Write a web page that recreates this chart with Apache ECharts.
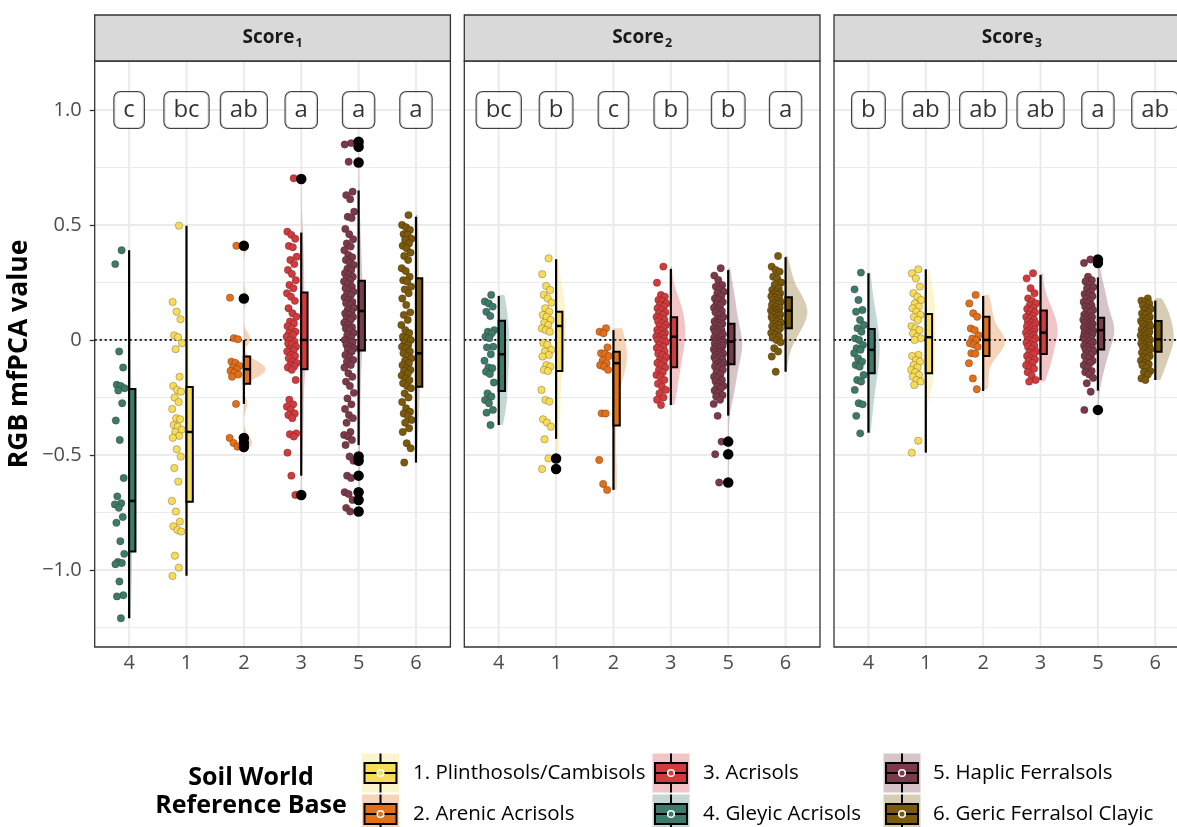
<!DOCTYPE html>
<html><head><meta charset="utf-8">
<script src="https://cdn.jsdelivr.net/npm/echarts@6/dist/echarts.min.js"></script>
<style>html,body{margin:0;padding:0;background:#fff}#c{width:1177px;height:827px}</style>
</head><body><div id="c"></div><script>
// ---------- DATA ----------
const facetSubs = ['1', '2', '3'];
const xGroups = [4, 1, 2, 3, 5, 6];               // soil group shown at axis positions 1..6
const xTickLabels = ['4', '1', '2', '3', '5', '6'];
const groupNames = ['1. Plinthosols/Cambisols', '2. Arenic Acrisols', '3. Acrisols',
  '4. Gleyic Acrisols', '5. Haplic Ferralsols', '6. Geric Ferralsol Clayic'];
const groupColors = ['#F6DC57', '#E2701B', '#D23B3E', '#3C7B69', '#7B3A4A', '#7A5A0B'];
const yTicks = [-1, -0.5, 0, 0.5, 1];
const yMinorTicks = [-1.25, -0.75, -0.25, 0.25, 0.75];

// Score 1 points
const s1_g4 = [0.39,0.33,-0.05,-0.12,-0.195,-0.2,-0.21,-0.22,-0.275,-0.35,-0.435,-0.6,-0.68,-0.71,-0.715,-0.73,-0.77,-0.795,-0.875,-0.93,-0.965,-0.97,-0.975,-1.05,-1.11,-1.115,-1.21];
const s1_g1 = [0.497,0.165,0.123,0.09,0.02,0.012,-0.014,-0.04,-0.16,-0.2,-0.217,-0.225,-0.25,-0.27,-0.3,-0.34,-0.345,-0.37,-0.377,-0.39,-0.4,-0.417,-0.425,-0.475,-0.507,-0.557,-0.616,-0.7,-0.746,-0.79,-0.81,-0.826,-0.833,-0.938,-0.99,-1.026];
const s1_g2 = [0.41,0.184,0.008,0.003,-0.094,-0.1,-0.113,-0.12,-0.127,-0.135,-0.142,-0.15,-0.16,-0.278,-0.426,-0.448,-0.464];
const s1_g3 = [0.703,0.471,0.457,0.44,0.409,0.403,0.362,0.348,0.33,0.304,0.287,0.26,0.239,0.225,0.203,0.188,0.17,0.138,0.116,0.101,0.08,0.072,0.06,0.051,0.036,0.03,0.022,0.014,0.0,-0.007,-0.015,-0.02,-0.029,-0.04,-0.045,-0.05,-0.065,-0.07,-0.08,-0.094,-0.1,-0.109,-0.115,-0.12,-0.13,-0.174,-0.26,-0.28,-0.29,-0.304,-0.32,-0.326,-0.34,-0.406,-0.41,-0.42,-0.49,-0.59,-0.674];
const s1_g5 = [0.856,0.85,0.775,0.645,0.63,0.612,0.558,0.536,0.53,0.483,0.46,0.438,0.42,0.406,0.39,0.37,0.36,0.348,0.335,0.326,0.31,0.304,0.29,0.283,0.275,0.268,0.26,0.254,0.245,0.232,0.225,0.217,0.21,0.2,0.196,0.185,0.174,0.165,0.16,0.152,0.14,0.13,0.12,0.115,0.109,0.1,0.095,0.087,0.075,0.065,0.055,0.05,0.043,0.03,0.022,0.01,0.0,-0.007,-0.01,-0.02,-0.029,-0.036,-0.04,-0.05,-0.065,-0.075,-0.087,-0.095,-0.109,-0.12,-0.145,-0.16,-0.181,-0.2,-0.23,-0.254,-0.28,-0.3,-0.326,-0.34,-0.36,-0.4,-0.413,-0.42,-0.435,-0.457,-0.507,-0.525,-0.59,-0.6,-0.662,-0.67,-0.696,-0.73,-0.746];
const s1_g6 = [0.543,0.5,0.49,0.478,0.46,0.457,0.44,0.435,0.42,0.41,0.399,0.38,0.365,0.348,0.312,0.3,0.275,0.26,0.254,0.232,0.22,0.203,0.18,0.152,0.12,0.109,0.087,0.065,0.043,0.03,0.014,0.007,0.0,-0.014,-0.022,-0.03,-0.036,-0.05,-0.058,-0.07,-0.08,-0.09,-0.101,-0.11,-0.123,-0.13,-0.135,-0.145,-0.155,-0.167,-0.175,-0.188,-0.2,-0.21,-0.232,-0.25,-0.27,-0.297,-0.312,-0.32,-0.33,-0.348,-0.36,-0.384,-0.4,-0.449,-0.471,-0.533];
// Score 2 points
const s2_g4 = [0.196,0.167,0.159,0.145,0.123,0.104,0.043,0.036,0.029,0.014,0.008,-0.029,-0.032,-0.062,-0.09,-0.119,-0.123,-0.138,-0.148,-0.185,-0.232,-0.246,-0.261,-0.275,-0.304,-0.316,-0.37];
const s2_g1 = [0.355,0.286,0.235,0.217,0.196,0.181,0.162,0.138,0.123,0.109,0.1,0.087,0.075,0.065,0.05,0.043,0.036,-0.014,-0.02,-0.043,-0.05,-0.065,-0.072,-0.109,-0.116,-0.13,-0.135,-0.217,-0.261,-0.268,-0.345,-0.359,-0.377,-0.432,-0.515,-0.561];
const s2_g2 = [0.051,0.036,0.029,-0.032,-0.058,-0.06,-0.07,-0.09,-0.101,-0.11,-0.116,-0.13,-0.319,-0.32,-0.522,-0.626,-0.652];
const s2_g3 = [0.319,0.249,0.196,0.188,0.174,0.17,0.159,0.152,0.145,0.138,0.13,0.12,0.116,0.109,0.1,0.094,0.087,0.08,0.072,0.065,0.06,0.051,0.043,0.04,0.03,0.029,0.022,0.015,0.01,0.005,0.0,-0.005,-0.01,-0.022,-0.03,-0.035,-0.043,-0.05,-0.06,-0.065,-0.075,-0.087,-0.095,-0.1,-0.109,-0.12,-0.13,-0.14,-0.152,-0.16,-0.174,-0.19,-0.203,-0.217,-0.232,-0.25,-0.26,-0.283];
const s2_g5 = [0.312,0.28,0.261,0.239,0.232,0.22,0.21,0.203,0.19,0.18,0.174,0.165,0.155,0.152,0.14,0.13,0.125,0.12,0.109,0.1,0.09,0.087,0.08,0.075,0.07,0.065,0.06,0.05,0.045,0.043,0.035,0.03,0.025,0.022,0.015,0.01,0.005,0.0,-0.002,-0.005,-0.007,-0.01,-0.012,-0.015,-0.02,-0.025,-0.03,-0.035,-0.04,-0.045,-0.05,-0.052,-0.055,-0.06,-0.065,-0.07,-0.075,-0.08,-0.085,-0.09,-0.1,-0.101,-0.106,-0.11,-0.115,-0.12,-0.13,-0.14,-0.15,-0.16,-0.165,-0.174,-0.18,-0.19,-0.2,-0.203,-0.21,-0.22,-0.23,-0.24,-0.246,-0.26,-0.278,-0.33,-0.442,-0.497,-0.62];
const s2_g6 = [0.365,0.319,0.304,0.297,0.275,0.268,0.25,0.24,0.225,0.217,0.21,0.203,0.2,0.196,0.19,0.185,0.181,0.174,0.17,0.165,0.16,0.155,0.152,0.145,0.14,0.135,0.13,0.128,0.125,0.12,0.118,0.115,0.11,0.109,0.105,0.1,0.095,0.09,0.087,0.08,0.075,0.07,0.065,0.06,0.055,0.05,0.043,0.035,0.03,0.022,0.015,0.01,0.0,-0.01,-0.036,-0.05,-0.072,-0.138];
// Score 3 points
const s3_g4 = [0.293,0.22,0.174,0.13,0.123,0.087,0.065,0.051,0.036,0.007,0.0,-0.022,-0.036,-0.043,-0.058,-0.08,-0.094,-0.109,-0.116,-0.152,-0.174,-0.181,-0.217,-0.275,-0.28,-0.33,-0.406];
const s3_g1 = [0.307,0.29,0.268,0.232,0.203,0.188,0.174,0.159,0.145,0.138,0.123,0.109,0.1,0.087,0.06,0.051,0.043,0.029,0.014,0.007,0.0,-0.065,-0.07,-0.087,-0.094,-0.109,-0.12,-0.13,-0.14,-0.152,-0.16,-0.174,-0.181,-0.196,-0.438,-0.49];
const s3_g2 = [0.196,0.159,0.116,0.101,0.05,0.043,0.02,0.007,0.0,-0.014,-0.02,-0.03,-0.058,-0.06,-0.101,-0.167,-0.214];
const s3_g3 = [0.29,0.268,0.225,0.203,0.181,0.17,0.159,0.15,0.14,0.135,0.128,0.12,0.11,0.105,0.1,0.095,0.087,0.08,0.075,0.072,0.065,0.06,0.058,0.05,0.045,0.04,0.035,0.032,0.025,0.02,0.015,0.01,0.005,0.0,-0.005,-0.012,-0.02,-0.025,-0.03,-0.04,-0.05,-0.055,-0.061,-0.07,-0.08,-0.085,-0.09,-0.1,-0.11,-0.12,-0.125,-0.14,-0.155,-0.174,-0.181];
const s3_g5 = [0.35,0.335,0.275,0.26,0.254,0.24,0.23,0.225,0.21,0.2,0.195,0.19,0.18,0.17,0.165,0.16,0.15,0.145,0.14,0.13,0.125,0.12,0.11,0.105,0.1,0.097,0.09,0.088,0.085,0.08,0.075,0.072,0.07,0.065,0.06,0.055,0.052,0.05,0.045,0.043,0.04,0.038,0.035,0.03,0.028,0.025,0.02,0.015,0.012,0.01,0.005,0.0,-0.005,-0.01,-0.015,-0.02,-0.025,-0.03,-0.035,-0.041,-0.045,-0.05,-0.06,-0.065,-0.07,-0.08,-0.09,-0.095,-0.1,-0.11,-0.12,-0.135,-0.14,-0.15,-0.165,-0.188,-0.225,-0.304];
const s3_g6 = [0.181,0.171,0.165,0.159,0.15,0.14,0.135,0.13,0.12,0.115,0.11,0.1,0.095,0.09,0.083,0.08,0.075,0.07,0.065,0.06,0.055,0.05,0.045,0.04,0.035,0.03,0.025,0.02,0.015,0.01,0.005,0.003,0.0,-0.005,-0.01,-0.015,-0.02,-0.025,-0.03,-0.035,-0.04,-0.045,-0.051,-0.055,-0.06,-0.07,-0.075,-0.08,-0.09,-0.1,-0.105,-0.11,-0.12,-0.135,-0.14,-0.15,-0.167,-0.174];

// Boxplot stats in axis order (4,1,2,3,5,6): [lower whisker, Q1, median, Q3, upper whisker]
const box_s1 = [[-1.21,-0.92,-0.70,-0.213,0.39],[-1.025,-0.703,-0.40,-0.205,0.497],[-0.278,-0.19,-0.127,-0.072,0.0],[-0.59,-0.127,0.0,0.206,0.467],[-0.457,-0.046,0.126,0.258,0.65],[-0.533,-0.203,-0.058,0.268,0.536]];
const box_s2 = [[-0.37,-0.222,-0.062,0.084,0.191],[-0.43,-0.135,0.061,0.123,0.351],[-0.652,-0.372,-0.101,-0.051,0.043],[-0.283,-0.119,0.014,0.099,0.309],[-0.329,-0.106,-0.007,0.07,0.304],[-0.138,0.051,0.128,0.186,0.36]];
const box_s3 = [[-0.403,-0.145,-0.043,0.048,0.29],[-0.49,-0.145,0.012,0.113,0.307],[-0.222,-0.07,0.0,0.101,0.191],[-0.174,-0.061,0.032,0.128,0.283],[-0.22,-0.041,0.043,0.097,0.272],[-0.174,-0.051,0.003,0.083,0.171]];
// Boxplot outliers in axis order
const out_s1 = [[],[],[0.41,0.18,-0.426,-0.448,-0.465],[0.70,-0.674],[0.862,0.84,0.772,-0.507,-0.525,-0.59,-0.662,-0.696,-0.746],[]];
const out_s2 = [[],[-0.515,-0.561],[],[],[-0.442,-0.497,-0.62],[]];
const out_s3 = [[],[],[],[],[0.35,0.335,-0.304],[]];
// Compact letter display
const letters_s1 = ['c','bc','ab','a','a','a'];
const letters_s2 = ['bc','b','c','b','b','a'];
const letters_s3 = ['b','ab','ab','ab','a','ab'];
const letterY = 1.0;

// ---------- BUILD ----------
const pointsByFacet = [[s1_g4,s1_g1,s1_g2,s1_g3,s1_g5,s1_g6],[s2_g4,s2_g1,s2_g2,s2_g3,s2_g5,s2_g6],[s3_g4,s3_g1,s3_g2,s3_g3,s3_g5,s3_g6]];
const boxByFacet = [box_s1, box_s2, box_s3];
const outByFacet = [out_s1, out_s2, out_s3];
const lettersByFacet = [letters_s1, letters_s2, letters_s3];

const FONT = '"Open Sans", Lato, sans-serif';
const gridLeft = [94.7, 464.3, 834];
const gridTop = 61, gridW = 355.7, gridH = 586;
const yMin = -1.335, yMax = 1.213;

function rgba(hex, a) {
  const n = parseInt(hex.slice(1), 16);
  return 'rgba(' + (n >> 16 & 255) + ',' + (n >> 8 & 255) + ',' + (n & 255) + ',' + a + ')';
}
function quantile(sorted, p) {
  const h = (sorted.length - 1) * p, lo = Math.floor(h);
  return sorted[lo] + (h - lo) * ((sorted[lo + 1] ?? sorted[lo]) - sorted[lo]);
}
function kde(vals) {
  const s = vals.slice().sort((a, b) => a - b), n = s.length;
  const mean = s.reduce((a, b) => a + b, 0) / n;
  const sd = Math.sqrt(s.reduce((a, b) => a + (b - mean) * (b - mean), 0) / (n - 1));
  const iqr = quantile(s, 0.75) - quantile(s, 0.25);
  let h = 0.9 * Math.min(sd, iqr / 1.34) * Math.pow(n, -0.2);
  if (!(h > 0)) h = 0.9 * sd * Math.pow(n, -0.2);
  const lo = s[0], hi = s[n - 1], steps = 90, out = [];
  for (let k = 0; k <= steps; k++) {
    const y = lo + (hi - lo) * k / steps;
    let d = 0;
    for (const v of s) { const z = (y - v) / h; d += Math.exp(-0.5 * z * z); }
    out.push([y, d / (n * h * Math.sqrt(2 * Math.PI))]);
  }
  return out;
}
const VIOLIN_MAX = 0.38;
const violins = pointsByFacet.map(groups => {
  const ks = groups.map(kde);
  const mx = Math.max(...ks.map(k => Math.max(...k.map(p => p[1]))));
  return ks.map(k => k.map(p => [p[0], p[1] / mx * VIOLIN_MAX]));
});
function jitter(i) { const f = (i * 0.6180339887 + 0.31) % 1; return -0.075 - 0.18 * f; }

const grids = [], xAxes = [], yAxes = [], series = [];
for (let f = 0; f < 3; f++) {
  grids.push({ left: gridLeft[f], top: gridTop, width: gridW, height: gridH, show: false, outerBoundsMode: 'none', containLabel: false });
  xAxes.push({
    type: 'value', gridIndex: f, min: 0.4, max: 6.6,
    axisLine: { show: false }, splitLine: { show: false },
    axisTick: { show: true, customValues: [1, 2, 3, 4, 5, 6], length: 5, lineStyle: { color: '#333', width: 1.3 } },
    axisLabel: { customValues: [1, 2, 3, 4, 5, 6], formatter: v => xTickLabels[Math.round(v) - 1], color: '#4d4d4d', fontSize: 20, fontFamily: FONT, margin: 6 }
  });
  yAxes.push({
    type: 'value', gridIndex: f, min: yMin, max: yMax,
    axisLine: { show: false }, splitLine: { show: false },
    axisTick: { show: f === 0, customValues: yTicks, length: 5, lineStyle: { color: '#333', width: 1.3 } },
    axisLabel: { show: f === 0, customValues: yTicks, color: '#4d4d4d', fontSize: 20, fontFamily: FONT, margin: 13,
      formatter: v => Math.abs(v) < 1e-9 ? '0' : (v < 0 ? '\u2212' : '') + Math.abs(v).toFixed(1) },
    name: f === 0 ? 'RGB mfPCA value' : '', nameLocation: 'middle', nameGap: 62,
    nameTextStyle: { fontSize: 26.5, fontWeight: 'bold', fontFamily: FONT, color: '#000' }
  });

  // background grid lines + dotted zero line
  const gl = [];
  [1, 2, 3, 4, 5, 6].forEach(v => gl.push([0, v]));
  yMinorTicks.forEach(v => gl.push([2, v]));
  yTicks.forEach(v => gl.push([1, v]));
  gl.push([3, 0]);
  series.push({
    type: 'custom', xAxisIndex: f, yAxisIndex: f, z: 1, silent: true, data: gl,
    encode: { x: [], y: [] },
    renderItem: (params, api) => {
      const cs = params.coordSys, kind = api.value(0), v = api.value(1);
      if (kind === 0) {
        const x = api.coord([v, 0])[0];
        return { type: 'line', shape: { x1: x, y1: cs.y, x2: x, y2: cs.y + cs.height }, style: { stroke: '#ebebeb', lineWidth: 2 } };
      }
      const y = api.coord([1, v])[1];
      if (kind === 3) return { type: 'line', shape: { x1: cs.x, y1: y, x2: cs.x + cs.width, y2: y }, style: { stroke: '#000', lineWidth: 1.8, lineDash: [2, 3] } };
      return { type: 'line', shape: { x1: cs.x, y1: y, x2: cs.x + cs.width, y2: y }, style: { stroke: '#ebebeb', lineWidth: kind === 1 ? 2 : 1.1 } };
    }
  });

  // half violins
  series.push({
    type: 'custom', xAxisIndex: f, yAxisIndex: f, z: 2, silent: true,
    data: xGroups.map((g, i) => [i + 1, i]), encode: { x: 0, y: [] },
    renderItem: (params, api) => {
      const pos = api.value(0), idx = api.value(1), k = violins[f][idx];
      const pts = k.map(p => api.coord([pos + p[1], p[0]]));
      for (let j = k.length - 1; j >= 0; j--) pts.push(api.coord([pos, k[j][0]]));
      return { type: 'polygon', shape: { points: pts }, style: { fill: rgba(groupColors[xGroups[idx] - 1], 0.3), stroke: 'none' } };
    }
  });

  // jittered points
  xGroups.forEach((g, i) => {
    series.push({
      type: 'scatter', xAxisIndex: f, yAxisIndex: f, z: 3, silent: true,
      symbolSize: 7.4,
      itemStyle: { color: groupColors[g - 1], borderColor: 'rgba(40,20,20,0.45)', borderWidth: 0.6, opacity: 1 },
      data: pointsByFacet[f][i].map((v, j) => [i + 1 + jitter(j), v])
    });
  });

  // boxplots
  series.push({
    type: 'custom', xAxisIndex: f, yAxisIndex: f, z: 4, silent: true,
    data: boxByFacet[f].map((b, i) => [i + 1, ...b, i]),
    encode: { x: 0, y: [1, 5] },
    renderItem: (params, api) => {
      const pos = api.value(0), lo = api.value(1), q1 = api.value(2), md = api.value(3), q3 = api.value(4), hi = api.value(5), idx = api.value(6);
      const pLo = api.coord([pos, lo]), pHi = api.coord([pos, hi]);
      const a = api.coord([pos, q3]), b = api.coord([pos + 0.11, q1]), m = api.coord([pos, md]);
      return { type: 'group', children: [
        { type: 'line', shape: { x1: pLo[0], y1: pLo[1], x2: pHi[0], y2: pHi[1] }, style: { stroke: '#000', lineWidth: 2.2 } },
        { type: 'rect', shape: { x: a[0], y: a[1], width: b[0] - a[0], height: b[1] - a[1] }, style: { fill: groupColors[xGroups[idx] - 1], stroke: '#000', lineWidth: 2 } },
        { type: 'line', shape: { x1: a[0], y1: m[1], x2: b[0], y2: m[1] }, style: { stroke: '#000', lineWidth: 2.5 } }
      ] };
    }
  });

  // outliers
  const od = [];
  outByFacet[f].forEach((arr, i) => arr.forEach(v => od.push([i + 1, v])));
  series.push({ type: 'scatter', xAxisIndex: f, yAxisIndex: f, z: 5, silent: true, symbolSize: 10.5, itemStyle: { color: '#000', opacity: 1 }, data: od });

  // letters
  series.push({
    type: 'scatter', xAxisIndex: f, yAxisIndex: f, z: 6, silent: true, symbolSize: 1,
    itemStyle: { color: 'rgba(0,0,0,0)' },
    data: lettersByFacet[f].map((l, i) => ({ name: l, value: [i + 1, letterY] })),
    label: { show: true, position: 'inside', formatter: '{b}', fontSize: 24, fontFamily: FONT, color: '#000',
      backgroundColor: '#fff', borderColor: '#111', borderWidth: 1.1, borderRadius: 6, padding: [4, 9, 4, 9], lineHeight: 28 }
  });
}

// strips, panel borders, legend
const graphic = [];
for (let f = 0; f < 3; f++) {
  graphic.push({ type: 'rect', z: 100, shape: { x: gridLeft[f], y: gridTop, width: gridW, height: gridH }, style: { fill: 'none', stroke: '#333', lineWidth: 1.3 } });
  graphic.push({ type: 'rect', z: 100, shape: { x: gridLeft[f], y: 15, width: gridW, height: 46 }, style: { fill: '#d9d9d9', stroke: '#333', lineWidth: 1.3 } });
  graphic.push({ type: 'text', z: 101, x: gridLeft[f] + gridW / 2, y: 38,
    style: { text: '{a|Score}{b|' + facetSubs[f] + '}', align: 'center', verticalAlign: 'middle',
      rich: { a: { fontSize: 19, fontWeight: 'bold', fontFamily: FONT, fill: '#1a1a1a', lineHeight: 24, verticalAlign: 'middle' },
              b: { fontSize: 12.5, fontWeight: 'bold', fontFamily: FONT, fill: '#1a1a1a', lineHeight: 12, verticalAlign: 'bottom', padding: [0, 0, 0, 1] } } } });
}
graphic.push({ type: 'text', z: 100, x: 251, y: 778, style: { text: 'Soil World', align: 'center', verticalAlign: 'middle', fontSize: 25, fontWeight: 'bold', fontFamily: FONT, fill: '#000' } });
graphic.push({ type: 'text', z: 100, x: 251, y: 806, style: { text: 'Reference Base', align: 'center', verticalAlign: 'middle', fontSize: 25, fontWeight: 'bold', fontFamily: FONT, fill: '#000' } });
const legCols = [[380.5, 413], [671, 703], [902, 933]];
const legRows = [773, 814];
for (let g = 0; g < 6; g++) {
  const kx = legCols[Math.floor(g / 2)][0], tx = legCols[Math.floor(g / 2)][1], ry = legRows[g % 2];
  const col = groupColors[g];
  graphic.push({ type: 'rect', z: 100, shape: { x: kx - 18.5, y: ry - 19.5, width: 37, height: 39 }, style: { fill: rgba(col, 0.3) } });
  graphic.push({ type: 'line', z: 101, shape: { x1: kx, y1: ry - 19.5, x2: kx, y2: ry + 19.5 }, style: { stroke: '#000', lineWidth: 2 } });
  graphic.push({ type: 'rect', z: 102, shape: { x: kx - 16, y: ry - 10, width: 32, height: 20 }, style: { fill: col, stroke: '#000', lineWidth: 2 } });
  graphic.push({ type: 'line', z: 103, shape: { x1: kx - 16, y1: ry, x2: kx + 16, y2: ry }, style: { stroke: '#000', lineWidth: 2 } });
  graphic.push({ type: 'circle', z: 104, shape: { cx: kx, cy: ry, r: 3.3 }, style: { fill: col, stroke: '#fff', lineWidth: 1.5 } });
  graphic.push({ type: 'text', z: 100, x: tx, y: ry, style: { text: groupNames[g], align: 'left', verticalAlign: 'middle', fontSize: 20.5, fontFamily: FONT, fill: '#000' } });
}

const chart = echarts.init(document.getElementById('c'), null, { renderer: 'canvas' });
chart.setOption({ animation: false, backgroundColor: '#fff', grid: grids, xAxis: xAxes, yAxis: yAxes, series, graphic });
</script></body></html>
